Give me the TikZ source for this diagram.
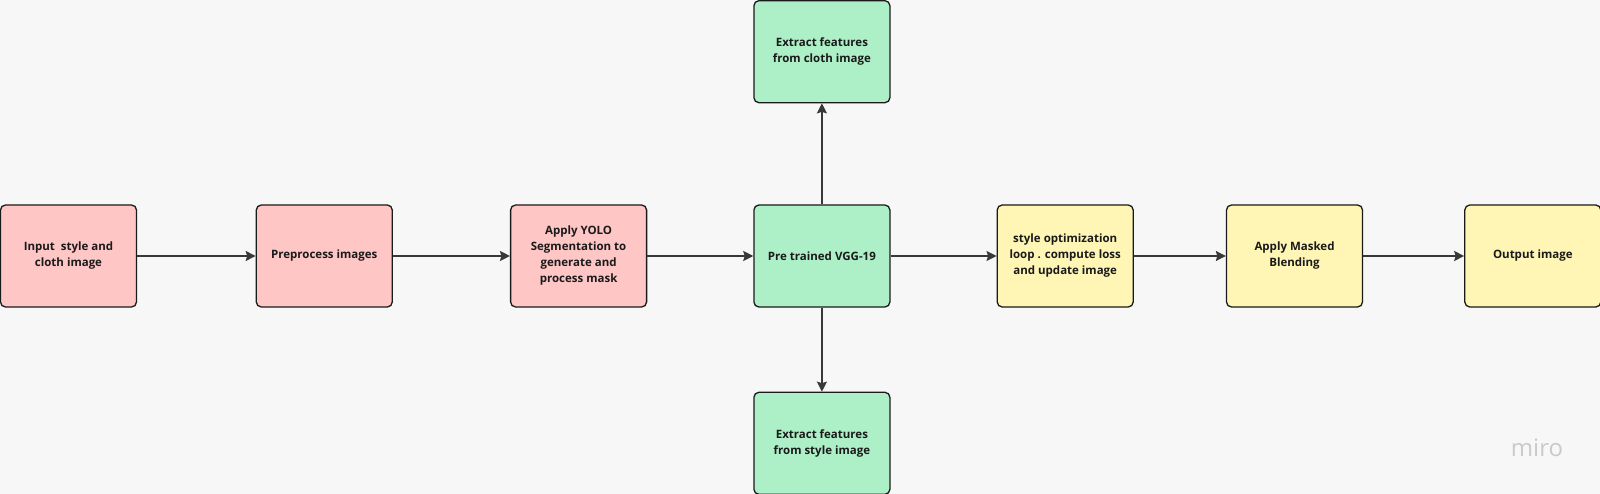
\documentclass[tikz,border=0pt]{standalone}
\usepackage{fontspec}
\setmainfont{Open Sans}
\usetikzlibrary{positioning,arrows.meta}

\definecolor{bgcol}{HTML}{F7F7F7}
\definecolor{pinkfill}{HTML}{FFC6C6}
\definecolor{greenfill}{HTML}{ADF0C7}
\definecolor{yellowfill}{HTML}{FFF6B6}
\definecolor{edgecol}{HTML}{1A1A1A}
\definecolor{arrowcol}{HTML}{383838}
\definecolor{logocol}{HTML}{C9C9CE}

\begin{document}
\begin{tikzpicture}[x=1pt,y=-1pt,->,>={Stealth[length=10pt,width=10pt,inset=1.5pt]},
        line width=1.6pt,draw=arrowcol,node distance=118.5pt]
        \tikzstyle{every node}=[font=\fontsize{11.5}{16}\selectfont\bfseries, text=edgecol]
        \tikzstyle{stepbox}=[draw=edgecol, line width=1.3pt, rounded corners=5pt,
            minimum width=136pt, minimum height=102pt, align=center, inner sep=4pt]
        \tikzstyle{pinkbox}=[stepbox, fill=pinkfill]
        \tikzstyle{greenbox}=[stepbox, fill=greenfill]
        \tikzstyle{yellowbox}=[stepbox, fill=yellowfill]

        \useasboundingbox[fill=bgcol] (0,0) rectangle (1600,494);

        \node[pinkbox]   (input) at (68.5,256) {Input\ \ style and\\cloth image};
        \node[pinkbox]   (prep)  [right=of input] {Preprocess images};
        \node[pinkbox]   (yolo)  [right=117pt of prep] {Apply YOLO\\Segmentation to\\generate and\\process mask};
        \node[greenbox]  (vgg)   [right=106pt of yolo] {Pre trained VGG-19};
        \node[greenbox]  (cloth) [above=101pt of vgg] {Extract features\\from cloth image};
        \node[greenbox]  (style) [below=84pt of vgg] {Extract features\\from style image};
        \node[yellowbox] (optim) [right=106pt of vgg] {style optimization\\loop . compute loss\\and update image};
        \node[yellowbox] (blend) [right=92pt of optim] {Apply Masked\\Blending};
        \node[yellowbox] (out)   [right=101pt of blend] {Output image};

        \path (input) edge (prep)
        (prep) edge (yolo)
        (yolo) edge (vgg)
        (vgg) edge (cloth)
        (vgg) edge (style)
        (vgg) edge (optim)
        (optim) edge (blend)
        (blend) edge (out);

        \node[font=\fontsize{24}{24}\selectfont, text=logocol] (logo) at (1537,448) {miro};
    \end{tikzpicture}
\end{document}
